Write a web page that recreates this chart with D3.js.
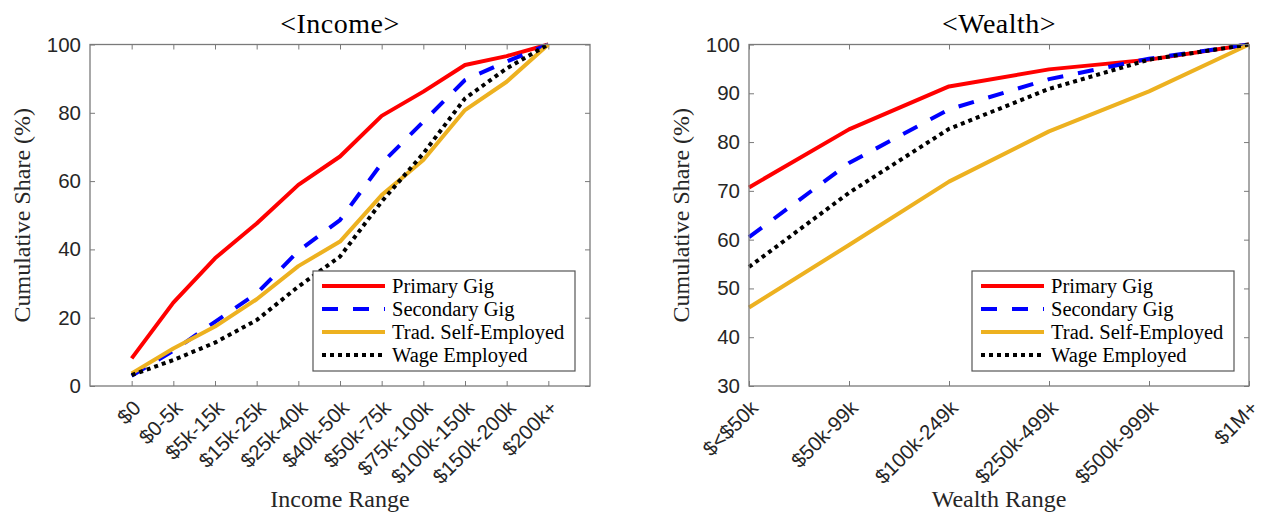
<!DOCTYPE html>
<html>
<head>
<meta charset="utf-8">
<script src="https://cdn.jsdelivr.net/npm/d3@7"></script>
<style>
  html, body { margin: 0; padding: 0; background: #fff; }
  svg { display: block; }
</style>
</head>
<body>
<svg id="chart" width="1263" height="512"></svg>
<script>
// ---------- data ----------
const seriesNames = ["Primary Gig", "Secondary Gig", "Trad. Self-Employed", "Wage Employed"];

const incomeCats = ["$0", "$0-5k", "$5k-15k", "$15k-25k", "$25k-40k", "$40k-50k", "$50k-75k", "$75k-100k", "$100k-150k", "$150k-200k", "$200k+"];
const incomePrimary   = [8.1, 24.4, 37.4, 47.6, 58.9, 67.2, 79.1, 86.2, 94.0, 96.6, 100];
const incomeSecondary = [3.0, 10.3, 18.8, 27.1, 39.5, 48.6, 65.2, 77.4, 89.6, 95.0, 100];
const incomeTrad      = [3.7, 11.0, 17.4, 25.4, 35.1, 42.3, 55.9, 66.2, 80.8, 89.1, 100];
const incomeWage      = [3.2, 7.6, 12.7, 19.3, 29.1, 37.9, 54.0, 68.1, 84.2, 93.0, 100];
const incomeYTicks = [0, 20, 40, 60, 80, 100];

const wealthCats = ["$<$50k", "$50k-99k", "$100k-249k", "$250k-499k", "$500k-999k", "$1M+"];
const wealthPrimary   = [70.7, 82.6, 91.4, 94.9, 96.9, 100];
const wealthSecondary = [60.5, 75.7, 86.7, 92.9, 97.1, 100];
const wealthTrad      = [46.1, 58.9, 71.9, 82.2, 90.4, 100];
const wealthWage      = [54.4, 69.6, 82.7, 90.9, 96.9, 100];
const wealthYTicks = [30, 40, 50, 60, 70, 80, 90, 100];

// ---------- styles ----------
const styles = [
  { color: "#FF0000", dash: null },
  { color: "#0000FF", dash: "16,15" },
  { color: "#EDB120", dash: null },
  { color: "#000000", dash: "4,4" }
];
const axisColor = "#7a7a7a";
const textColor = "#262626";
const tickFont = "'Liberation Sans', Arial, Helvetica, sans-serif";
const serifFont = "'Liberation Serif', 'Times New Roman', serif";

const svg = d3.select("#chart");

function drawPanel(cfg) {
  const { left, right, top, bottom } = cfg;
  const g = svg.append("g");

  const x = d3.scaleLinear().domain(cfg.xDomain).range([left, right]);
  const y = d3.scaleLinear().domain(cfg.yDomain).range([bottom, top]);
  const xIdx = cfg.cats.map((c, i) => i + cfg.xStart);

  // ticks (inward, both sides)
  g.append("g").attr("transform", `translate(0,${bottom})`)
    .call(d3.axisBottom(x).tickValues(xIdx).tickFormat("").tickSizeInner(-5).tickSizeOuter(0))
    .call(s => s.select(".domain").remove())
    .call(s => s.selectAll("line").attr("stroke", axisColor));
  g.append("g").attr("transform", `translate(0,${top})`)
    .call(d3.axisTop(x).tickValues(xIdx).tickFormat("").tickSizeInner(-5).tickSizeOuter(0))
    .call(s => s.select(".domain").remove())
    .call(s => s.selectAll("line").attr("stroke", axisColor));
  g.append("g").attr("transform", `translate(${left},0)`)
    .call(d3.axisLeft(y).tickValues(cfg.yTicks).tickSizeInner(-5).tickSizeOuter(0).tickPadding(9))
    .call(s => s.select(".domain").remove())
    .call(s => s.selectAll("line").attr("stroke", axisColor))
    .call(s => s.selectAll("text").attr("fill", textColor)
      .style("font-family", tickFont).style("font-size", "20.5px"));
  g.append("g").attr("transform", `translate(${right},0)`)
    .call(d3.axisRight(y).tickValues(cfg.yTicks).tickFormat("").tickSizeInner(-5).tickSizeOuter(0))
    .call(s => s.select(".domain").remove())
    .call(s => s.selectAll("line").attr("stroke", axisColor));

  // rotated x tick labels
  g.append("g").selectAll("text").data(cfg.cats).join("text")
    .attr("transform", (d, i) => `translate(${x(i + cfg.xStart) + 5},${bottom + 18}) rotate(-45)`)
    .attr("text-anchor", "end")
    .attr("dominant-baseline", "central")
    .attr("fill", textColor)
    .style("font-family", tickFont).style("font-size", "20.5px")
    .text(d => d);

  // lines
  const line = d3.line().x((d, i) => x(i + cfg.xStart)).y(d => y(d));
  cfg.series.forEach((vals, k) => {
    g.append("path").datum(vals)
      .attr("d", line)
      .attr("fill", "none")
      .attr("stroke", styles[k].color)
      .attr("stroke-width", 4)
      .attr("stroke-dasharray", styles[k].dash)
      .attr("stroke-linejoin", "round");
  });

  // box
  g.append("rect").attr("x", left).attr("y", top)
    .attr("width", right - left).attr("height", bottom - top)
    .attr("fill", "none").attr("stroke", axisColor).attr("stroke-width", 1.3);

  // title
  g.append("text").attr("x", (left + right) / 2).attr("y", 33)
    .attr("text-anchor", "middle").attr("fill", "#000")
    .style("font-family", serifFont).style("font-size", "28px")
    .style("letter-spacing", "0.5px")
    .text(cfg.title);

  // x label
  g.append("text").attr("x", (left + right) / 2).attr("y", 507)
    .attr("text-anchor", "middle").attr("fill", "#262626")
    .style("font-family", serifFont).style("font-size", "24px")
    .text(cfg.xLabel);

  // y label
  g.append("text")
    .attr("transform", `translate(${cfg.yLabelX},${(top + bottom) / 2}) rotate(-90)`)
    .attr("text-anchor", "middle").attr("fill", "#262626")
    .style("font-family", serifFont).style("font-size", "24px")
    .text("Cumulative Share (%)");

  // legend
  const lw = 262, lh = 100;
  const lx = right - 15 - lw, ly = 271;
  const lg = g.append("g");
  lg.append("rect").attr("x", lx).attr("y", ly).attr("width", lw).attr("height", lh)
    .attr("fill", "#fff").attr("stroke", "#555").attr("stroke-width", 1.2);
  seriesNames.forEach((name, k) => {
    const yy = ly + 15 + k * 23;
    lg.append("line").attr("x1", lx + 9).attr("x2", lx + 72).attr("y1", yy).attr("y2", yy)
      .attr("stroke", styles[k].color).attr("stroke-width", 4)
      .attr("stroke-dasharray", styles[k].dash);
    lg.append("text").attr("x", lx + 79).attr("y", yy).attr("dy", "0.35em")
      .attr("fill", "#000")
      .style("font-family", serifFont).style("font-size", "20.5px")
      .text(name);
  });
}

drawPanel({
  left: 90, right: 590, top: 44.5, bottom: 386,
  xDomain: [0, 12], xStart: 1, yDomain: [0, 100],
  cats: incomeCats, yTicks: incomeYTicks,
  series: [incomePrimary, incomeSecondary, incomeTrad, incomeWage],
  title: "<Income>", xLabel: "Income Range", yLabelX: 30
});

drawPanel({
  left: 749, right: 1249, top: 44.5, bottom: 386,
  xDomain: [0, 5], xStart: 0, yDomain: [30, 100],
  cats: wealthCats, yTicks: wealthYTicks,
  series: [wealthPrimary, wealthSecondary, wealthTrad, wealthWage],
  title: "<Wealth>", xLabel: "Wealth Range", yLabelX: 689
});
</script>
</body>
</html>
